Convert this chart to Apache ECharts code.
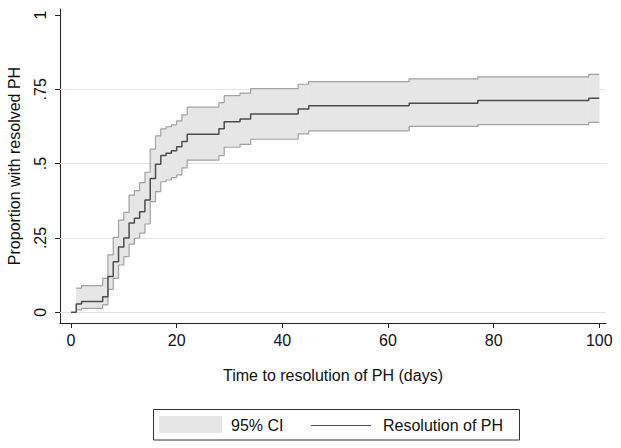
<!DOCTYPE html>
<html>
<head>
<meta charset="utf-8">
<script src="https://cdn.jsdelivr.net/npm/echarts@6/dist/echarts.min.js"></script>
<style>
html,body{margin:0;padding:0;background:#fff;}
#chart{width:621px;height:448px;}
</style>
</head>
<body>
<div id="chart"></div>
<script>
// Kaplan-Meier style estimate (time in days, proportion resolved)
var mainTimes = [0,1,2,6,7,8,9,10,11,12,13,14,15,16,17,18,19,20,21,22,28,29,32,34,43,45,64,77,98,100];
var mainProp  = [0,0.028,0.036,0.052,0.12,0.17,0.22,0.25,0.30,0.316,0.338,0.378,0.45,0.498,0.527,0.535,0.543,0.557,0.574,0.599,0.617,0.641,0.650,0.667,0.684,0.695,0.703,0.712,0.72,0.72];

// 95% confidence band
var ciTimes = [1,2,6,7,8,9,10,11,12,13,14,15,16,17,18,19,20,21,22,28,29,32,34,43,45,64,77,98,100];
var ciUpper = [0.081,0.09,0.114,0.193,0.252,0.31,0.336,0.394,0.409,0.436,0.471,0.549,0.593,0.617,0.624,0.63,0.644,0.664,0.69,0.705,0.729,0.737,0.752,0.767,0.776,0.785,0.792,0.80,0.80];
var ciLower = [0.008,0.013,0.025,0.077,0.114,0.159,0.187,0.229,0.249,0.266,0.297,0.372,0.406,0.439,0.445,0.453,0.462,0.486,0.512,0.527,0.555,0.565,0.582,0.60,0.61,0.625,0.631,0.639,0.639];

// Axis ticks and labels
var xTicks = [0,20,40,60,80,100];
var yTicks = [0,0.25,0.5,0.75,1];
var yTickLabels = ['0','.25','.5','.75','1'];
var gridValues = [0,0.25,0.5,0.75];

var xTitle = 'Time to resolution of PH (days)';
var yTitle = 'Proportion with resolved PH';
var legendCI = '95% CI';
var legendMain = 'Resolution of PH';

var FONT = '"Liberation Sans", Arial, Helvetica, sans-serif';
var FS = 16;

var mainData = mainTimes.map(function(t,i){return [t, mainProp[i]];});
var lowerData = ciTimes.map(function(t,i){return [t, ciLower[i]];});
var upperData = ciTimes.map(function(t,i){return [t, ciUpper[i]];});
// band cells: [start time, end time, lower, upper]
var bandData = [];
for (var i = 0; i < ciTimes.length - 1; i++) {
  bandData.push([ciTimes[i], ciTimes[i+1], ciLower[i], ciUpper[i]]);
}

var chart = echarts.init(document.getElementById('chart'), null, {renderer:'svg'});
chart.setOption({
  animation:false,
  backgroundColor:'#fff',
  textStyle:{fontFamily:FONT},
  grid:{left:60, right:15, top:9, bottom:125, containLabel:false, outerBoundsMode:'none'},
  xAxis:{
    type:'value', min:-2.08, max:101.27,
    name:xTitle, nameLocation:'middle', nameGap:44,
    nameTextStyle:{fontSize:FS, color:'#111', fontFamily:FONT},
    axisLine:{show:true, onZero:false, lineStyle:{color:'#222', width:1}},
    axisTick:{show:true, length:5, customValues:xTicks, lineStyle:{color:'#222'}},
    axisLabel:{customValues:xTicks, margin:9, fontSize:FS, color:'#111', fontFamily:FONT},
    splitLine:{show:false}
  },
  yAxis:{
    type:'value', min:-0.036, max:1.02,
    name:yTitle, nameLocation:'middle', nameGap:38, nameRotate:90,
    nameTextStyle:{fontSize:FS, color:'#111', fontFamily:FONT},
    axisLine:{show:true, onZero:false, lineStyle:{color:'#222', width:1}},
    axisTick:{show:true, length:5, customValues:yTicks, lineStyle:{color:'#222'}},
    axisLabel:{customValues:yTicks, rotate:90, margin:12, fontSize:FS, color:'#111', fontFamily:FONT,
      formatter:function(v){var i=yTicks.indexOf(v); return i>=0?yTickLabels[i]:'';}},
    splitLine:{show:false}
  },
  series:[
    {
      name:legendCI, type:'custom', data:bandData, z:2, silent:true,
      encode:{x:[0,1], y:[2,3]},
      renderItem:function(params, api){
        var p0 = api.coord([api.value(0), api.value(3)]);
        var p1 = api.coord([api.value(1), api.value(2)]);
        return {
          type:'rect',
          shape:{x:p0[0], y:p0[1], width:p1[0]-p0[0], height:p1[1]-p0[1]},
          style:{fill:'#e6e6e6', stroke:'#e6e6e6', lineWidth:0.6}
        };
      },
      markLine:{
        silent:true, z:1, symbol:['none','none'], label:{show:false},
        lineStyle:{color:'#e2e2e2', type:'solid', width:1},
        data:gridValues.map(function(v){return {yAxis:v};})
      }
    },
    {
      name:'lower', type:'line', step:'end', data:lowerData,
      symbol:'none', z:3, silent:true,
      lineStyle:{color:'#a3a3a3', width:1.2}
    },
    {
      name:'upper', type:'line', step:'end', data:upperData,
      symbol:'none', z:3, silent:true,
      lineStyle:{color:'#a3a3a3', width:1.2}
    },
    {
      name:legendMain, type:'line', step:'end', data:mainData,
      symbol:'none', z:4, silent:true,
      lineStyle:{color:'#4d4d4d', width:1.5}
    }
  ],
  graphic:[
    {type:'rect', shape:{x:153.5, y:409.5, width:366, height:30.5}, style:{fill:'#fff', stroke:'#333', lineWidth:1}},
    {type:'rect', shape:{x:159, y:416, width:63, height:17}, style:{fill:'#e6e6e6'}},
    {type:'text', x:231, y:425, style:{text:legendCI, fontSize:FS, fontFamily:FONT, fill:'#111', verticalAlign:'middle', align:'left'}},
    {type:'line', shape:{x1:311, y1:425.5, x2:371, y2:425.5}, style:{stroke:'#4d4d4d', lineWidth:1.2}},
    {type:'text', x:383, y:425, style:{text:legendMain, fontSize:FS, fontFamily:FONT, fill:'#111', verticalAlign:'middle', align:'left'}}
  ]
});
</script>
</body>
</html>
